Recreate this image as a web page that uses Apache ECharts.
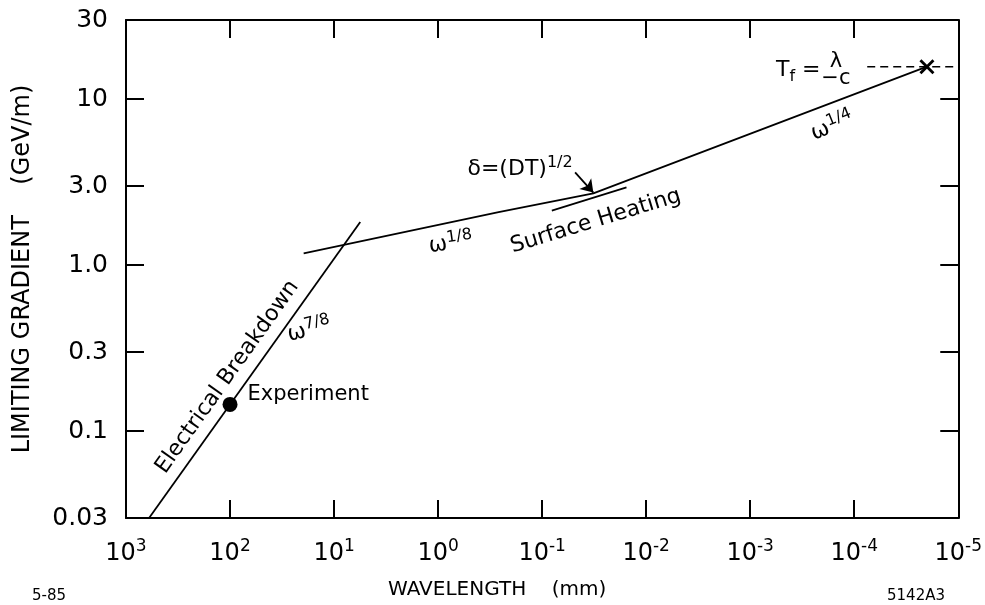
<!DOCTYPE html>
<html>
<head>
<meta charset="utf-8">
<script src="https://cdn.jsdelivr.net/npm/echarts@6/dist/echarts.min.js"></script>
<style>html,body{margin:0;padding:0;background:#fff;}#c{width:985px;height:605px;}</style>
</head>
<body>
<div id="c"></div>
<script>
// ---- data (wavelength in mm, gradient in GeV/m) ----
const xTickExps = [3, 2, 1, 0, -1, -2, -3, -4, -5];
const yTickValues = [0.03, 0.1, 0.3, 1, 3, 10, 30];
const yTickLabels = ['0.03', '0.1', '0.3', '1.0', '3.0', '10', '30'];

const breakdownLine = [[600, 0.03], [5.6, 1.82]];
const heatingLine = [[19.6, 1.18], [0.262, 2.087], [0.0322, 2.71], [2e-5, 15.7]];
const tangentLine = [[0.0807, 2.13], [0.01545, 2.94]];
const experimentPoint = [[100, 0.145]];
const transitPoint = [[2e-5, 15.7]];
const transitDash = [[7.5e-5, 15.7], [1e-5, 15.7]];
const arrowFrom = [0.0482, 3.62];
const arrowTo = [0.0322, 2.74];

const annotationTexts = ['Electrical Breakdown', 'ω7/8', 'ω1/8', 'Surface Heating', 'δ=(DT)1/2', 'ω1/4', 'Tf =', 'λ/c'];
const annotationAnchors = [[106, 0.212], [17.3, 0.406], [0.754, 1.35], [0.0305, 1.84], [0.163, 3.8], [1.62e-4, 6.86], [3.45e-4, 14.9], [1.5e-4, 14.9]];

// ---- chart ----
const FONT = 'DejaVu Sans';
const INK = '#000';
const xTickValues = xTickExps.map(e => Math.pow(10, e));

const richBase = {
  t: { fontFamily: FONT, fontSize: 22, color: INK },
  w: { fontFamily: FONT, fontSize: 22, color: INK },
  s: { fontFamily: FONT, fontSize: 16, color: INK, padding: [0, 0, 12, 0] },
  f: { fontFamily: FONT, fontSize: 16, color: INK, padding: [12, 0, 0, 0] },
  n: { fontFamily: FONT, fontSize: 21, color: INK, lineHeight: 17, align: 'center' },
  d: { fontFamily: FONT, fontSize: 21, color: INK, lineHeight: 17, align: 'center' }
};
const annotationRich = [
  '{t|Electrical Breakdown}',
  '{w|ω}{s|7/8}',
  '{w|ω}{s|1/8}',
  '{t|Surface Heating}',
  '{t|δ=(DT)}{s|1/2}',
  '{w|ω}{s|1/4}',
  '{t|T}{f|f}{t| =}',
  '{n|λ}\n{d|−c}'
];
const annotationRotate = [54.6, 14, 8, 17, 0, 22, 0, 0];

const chart = echarts.init(document.getElementById('c'), null, { renderer: 'canvas' });

function yLabel(v) {
  for (let i = 0; i < yTickValues.length; i++) {
    if (Math.abs(Math.log10(v) - Math.log10(yTickValues[i])) < 1e-6) return yTickLabels[i];
  }
  return '';
}
function xLabel(v) {
  const e = Math.round(Math.log10(v));
  return '{b|10}{s|' + (e < 0 ? '-' + (-e) : e) + '}';
}

const axisLineStyle = { color: INK, width: 2 };
const tickStyle = { show: true, inside: true, length: 18, lineStyle: { color: INK, width: 2 } };

chart.setOption({
  animation: false,
  backgroundColor: '#fff',
  grid: { left: 126, right: 24, top: 20, bottom: 84, containLabel: false },
  title: [
    { text: '5-85', left: 27, top: 584, textStyle: { fontFamily: FONT, fontSize: 15, fontWeight: 'normal', color: INK } },
    { text: '5142A3', left: 882, top: 584, textStyle: { fontFamily: FONT, fontSize: 15, fontWeight: 'normal', color: INK } }
  ],
  xAxis: [
    {
      type: 'log', logBase: 10, inverse: true, min: 1e-5, max: 1e3,
      name: 'WAVELENGTH    (mm)', nameLocation: 'middle', nameGap: 62,
      nameTextStyle: { fontFamily: FONT, fontSize: 20, color: INK, padding: [0, 90, 0, 0] },
      axisLine: { show: true, lineStyle: axisLineStyle },
      axisTick: Object.assign({ customValues: xTickValues }, tickStyle),
      axisLabel: {
        customValues: xTickValues, margin: 20, formatter: xLabel,
        rich: {
          b: { fontFamily: FONT, fontSize: 24, color: INK },
          s: { fontFamily: FONT, fontSize: 17, color: INK, padding: [0, 0, 14, 0] }
        }
      },
      splitLine: { show: false }, minorTick: { show: false }
    },
    {
      type: 'log', logBase: 10, inverse: true, min: 1e-5, max: 1e3, position: 'top',
      axisLine: { show: true, lineStyle: axisLineStyle },
      axisTick: Object.assign({ customValues: xTickValues }, tickStyle),
      axisLabel: { show: false }, splitLine: { show: false }
    }
  ],
  yAxis: [
    {
      type: 'log', logBase: 10, min: 0.03, max: 30,
      name: 'LIMITING GRADIENT    (GeV/m)', nameLocation: 'middle', nameRotate: 90, nameGap: 91,
      nameTextStyle: { fontFamily: FONT, fontSize: 24, color: INK },
      axisLine: { show: true, lineStyle: axisLineStyle },
      axisTick: Object.assign({ customValues: yTickValues }, tickStyle),
      axisLabel: { customValues: yTickValues, formatter: yLabel, margin: 18, fontFamily: FONT, fontSize: 25, color: INK },
      splitLine: { show: false }
    },
    {
      type: 'log', logBase: 10, min: 0.03, max: 30, position: 'right',
      axisLine: { show: true, lineStyle: axisLineStyle },
      axisTick: Object.assign({ customValues: yTickValues }, tickStyle),
      axisLabel: { show: false }, splitLine: { show: false }
    }
  ],
  series: [
    { type: 'line', data: breakdownLine, symbol: 'none', lineStyle: { color: INK, width: 1.8 }, silent: true },
    { type: 'line', data: heatingLine, symbol: 'none', lineStyle: { color: INK, width: 1.8 }, silent: true,
      markLine: {
        silent: true, symbol: ['none', 'arrow'], symbolSize: 12,
        lineStyle: { color: INK, width: 1.8, type: 'solid' }, itemStyle: { color: INK }, label: { show: false },
        emphasis: { disabled: true },
        data: [[{ coord: arrowFrom }, { coord: arrowTo }]]
      }
    },
    { type: 'line', data: tangentLine, symbol: 'none', lineStyle: { color: INK, width: 1.8 }, silent: true },
    { type: 'line', data: transitDash, symbol: 'none', lineStyle: { color: INK, width: 1.6, type: [8, 5] }, silent: true },
    { type: 'scatter', data: experimentPoint, symbol: 'circle', symbolSize: 15, itemStyle: { color: INK, opacity: 1 },
      label: { show: true, position: 'right', distance: 10, offset: [0, -10], formatter: 'Experiment', fontFamily: FONT, fontSize: 21, color: INK } },
    { type: 'scatter', data: transitPoint, symbolSize: 15, itemStyle: { color: INK, opacity: 1 },
      symbol: 'path://M0,1.6L1.6,0L6,4.4L10.4,0L12,1.6L7.6,6L12,10.4L10.4,12L6,7.6L1.6,12L0,10.4L4.4,6Z' },
    { type: 'scatter', symbolSize: 0, silent: true, itemStyle: { opacity: 1 },
      data: annotationAnchors.map((p, i) => ({
        value: p, name: annotationTexts[i],
        label: { show: true, position: 'inside', formatter: annotationRich[i], rotate: annotationRotate[i], rich: richBase }
      }))
    }
  ]
});
</script>
</body>
</html>
